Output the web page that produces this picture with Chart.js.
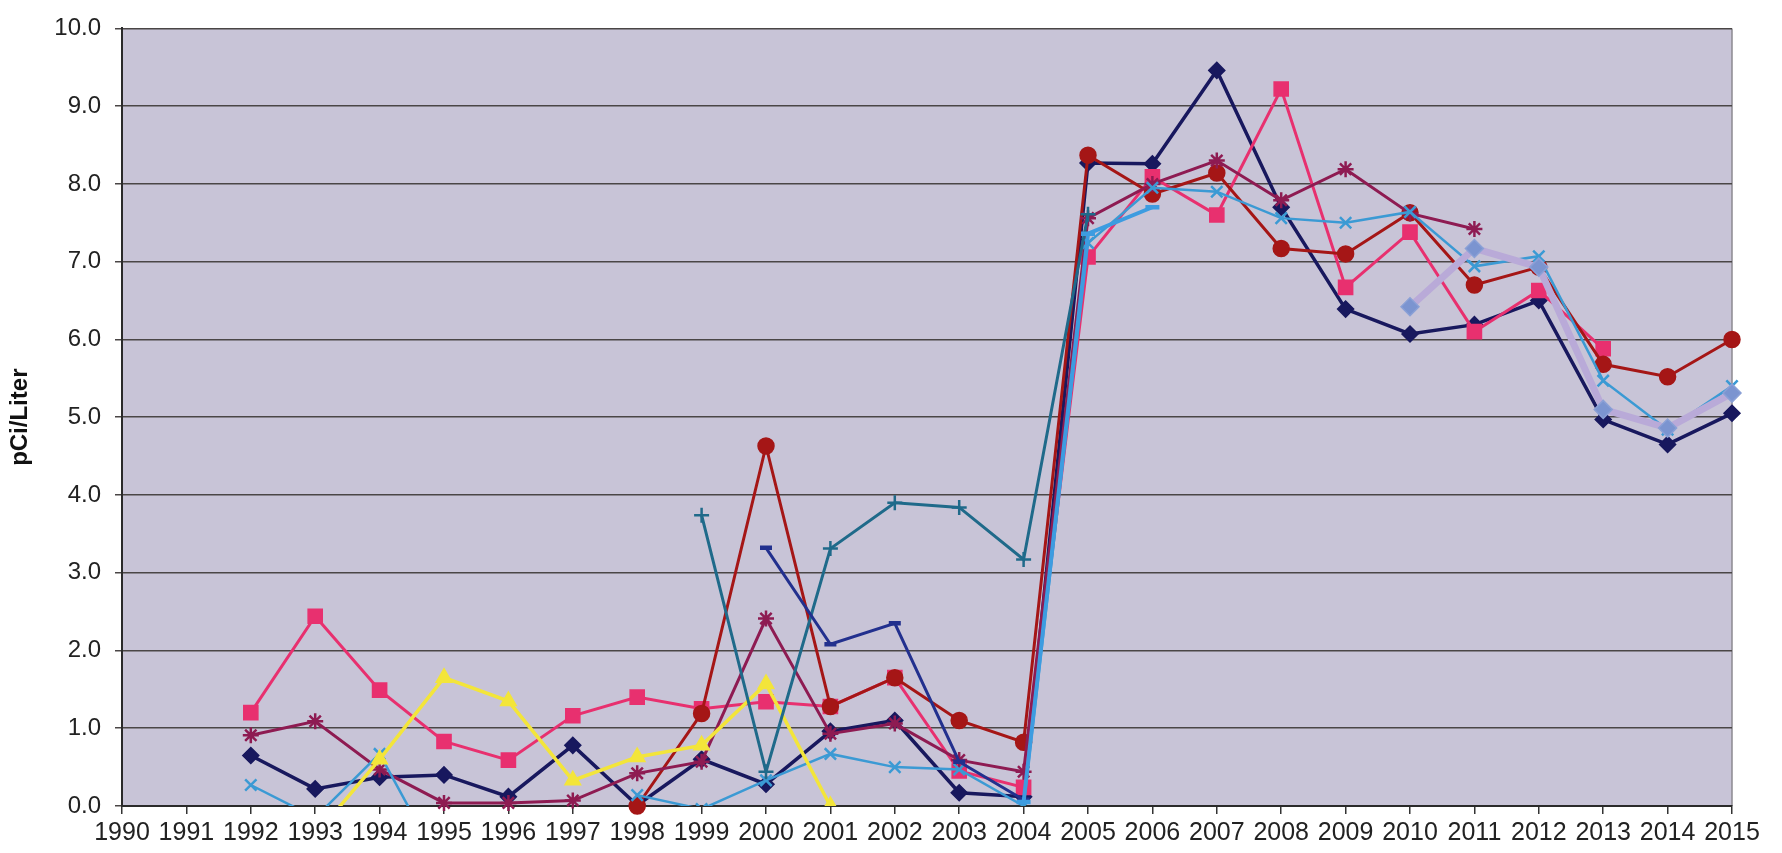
<!DOCTYPE html>
<html>
<head>
<meta charset="utf-8">
<script src="https://cdn.jsdelivr.net/npm/chart.js"></script>
<style>
  body { margin: 0; background: #fff; }
  #wrap { width: 1782px; height: 853px; }
</style>
</head>
<body>
<div id="wrap"><canvas id="chart" width="1782" height="853"></canvas></div>
<script>
// --- Data (pCi/Liter per year) ---
const years = ['1990','1991','1992','1993','1994','1995','1996','1997','1998','1999','2000','2001','2002',
               '2003','2004','2005','2006','2007','2008','2009','2010','2011','2012','2013','2014','2015'];
const yTicks = [0, 1, 2, 3, 4, 5, 6, 7, 8, 9, 10];

const navyDiamond = [null, null, 0.65, 0.22, 0.37, 0.40, 0.12, 0.78, 0.01, 0.60, 0.28, 0.96, 1.10,
                     0.17, 0.12, 8.27, 8.26, 9.46, 7.70, 6.39, 6.07, 6.19, 6.50, 4.97, 4.65, 5.05];
const pinkSquare  = [null, null, 1.20, 2.44, 1.49, 0.83, 0.59, 1.16, 1.40, 1.25, 1.34, 1.28, 1.65,
                     0.45, 0.24, 7.06, 8.09, 7.60, 9.22, 6.67, 7.38, 6.10, 6.63, 5.88, null, null];
const redCircle   = [null, null, null, null, null, null, null, null, 0.00, 1.19, 4.63, 1.28, 1.65,
                     1.10, 0.82, 8.37, 7.87, 8.14, 7.17, 7.10, 7.63, 6.70, 6.93, 5.68, 5.52, 6.00];
const maroonStar  = [null, null, 0.91, 1.09, 0.47, 0.04, 0.04, 0.07, 0.42, 0.57, 2.41, 0.93, 1.06,
                     0.59, 0.44, 7.56, 8.00, 8.30, 7.79, 8.19, 7.62, 7.42, null, null, null, null];
const skyCross    = [null, null, 0.27, -0.15, 0.67, -0.85, null, null, 0.14, -0.04, 0.33, 0.67, 0.50,
                     0.47, 0.00, 7.24, 7.95, 7.90, 7.56, 7.50, 7.64, 6.94, 7.07, 5.47, 4.84, 5.40];
const yellowTri   = [null, null, null, -0.38, 0.60, 1.65, 1.35, 0.33, 0.63, 0.78, 1.57, 0.00, null,
                     null, null, null, null, null, null, null, null, null, null, null, null, null];
const tealPlus    = [null, null, null, null, null, null, null, null, null, 3.74, 0.44, 3.31, 3.90,
                     3.84, 3.17, 7.61, null, null, null, null, null, null, null, null, null, null];
const navyDash    = [null, null, null, null, null, null, null, null, null, null, 3.32, 2.08, 2.35,
                     0.57, 0.08, null, null, null, null, null, null, null, null, null, null, null];
const skyDash     = [null, null, null, null, null, null, null, null, null, null, null, null, null,
                     null, 0.05, 7.36, 7.70, null, null, null, null, null, null, null, null, null];
const lavender    = [null, null, null, null, null, null, null, null, null, null, null, null, null,
                     null, null, null, null, null, null, null, 6.42, 7.17, 6.93, 5.10, 4.86, 5.31];

// --- Plot background + right border ---
const plotBackground = {
    id: 'plotBackground',
    beforeDraw(chart) {
        const { ctx, chartArea: a } = chart;
        ctx.save();
        ctx.fillStyle = '#c8c4d7';
        ctx.fillRect(a.left, a.top, a.right - a.left, a.bottom - a.top);
        ctx.strokeStyle = '#8c8a90';
        ctx.lineWidth = 1.5;
        ctx.beginPath();
        ctx.moveTo(a.right, a.top);
        ctx.lineTo(a.right, a.bottom);
        ctx.stroke();
        ctx.restore();
    }
};

function series(data, color, style, radius, width, order, extra) {
    return Object.assign({
        data: data,
        borderColor: color,
        backgroundColor: color,
        pointBackgroundColor: color,
        pointBorderColor: color,
        pointStyle: style,
        pointRadius: radius,
        pointBorderWidth: 1.5,
        borderWidth: width,
        tension: 0,
        order: order,
        clip: { left: false, right: false, top: 0, bottom: 10 }
    }, extra || {});
}

const FONT = "'Liberation Sans', Arial, sans-serif";

new Chart(document.getElementById('chart').getContext('2d'), {
    type: 'line',
    data: {
        labels: years,
        datasets: [
            series(lavender, '#b9aad8', 'rectRot', 9, 7, 1,
                { pointBackgroundColor: '#7b94d0', pointBorderColor: '#8aa0d6' }),
            series(skyDash, '#3d9ce0', 'line', 7, 4, 2, { pointBorderWidth: 4.5 }),
            series(navyDash, '#22308e', 'line', 6, 3, 3, { pointBorderWidth: 4.5 }),
            series(tealPlus, '#1f6a8a', 'cross', 7.5, 3, 4, { pointBorderWidth: 2.5 }),
            series(yellowTri, '#f3e53a', 'triangle', 9, 3.5, 5,
                { clip: { left: false, right: false, top: 0, bottom: 0 } }),
            series(skyCross, '#3b9ad4', 'crossRot', 8, 2.5, 6,
                { pointBorderWidth: 2.5, clip: { left: false, right: false, top: 0, bottom: 0 } }),
            series(maroonStar, '#8e1b52', 'star', 8, 3, 7, { pointBorderWidth: 2.5 }),
            series(redCircle, '#a51616', 'circle', 8, 3, 8),
            series(pinkSquare, '#e8306f', 'rect', 10, 3, 9),
            series(navyDiamond, '#18185e', 'rectRot', 8, 3.5, 10)
        ]
    },
    options: {
        responsive: false,
        animation: false,
        layout: { padding: { top: 21, right: 50, left: 0, bottom: 0 } },
        plugins: { legend: { display: false }, tooltip: { enabled: false } },
        scales: {
            x: {
                offset: false,
                grid: { drawOnChartArea: false, drawTicks: true, tickLength: 8, color: '#333', lineWidth: 1.5 },
                border: { display: true, color: '#2a2a2a', width: 2 },
                ticks: { color: '#222', font: { family: FONT, size: 25 }, padding: 4, maxRotation: 0, autoSkip: false },
                afterFit(scale) { scale.height = 47; }
            },
            y: {
                min: yTicks[0],
                max: yTicks[yTicks.length - 1],
                afterBuildTicks(scale) { scale.ticks = yTicks.map(v => ({ value: v })); },
                grid: { color: '#4a4646', lineWidth: 1.5, tickLength: 7 },
                border: { display: true, color: '#2a2a2a', width: 2 },
                ticks: {
                    color: '#222',
                    font: { family: FONT, size: 24 },
                    padding: 14,
                    callback: v => Number(v).toFixed(1)
                },
                title: {
                    display: true,
                    text: 'pCi/Liter',
                    color: '#111',
                    font: { family: FONT, size: 24, weight: 'bold' },
                    padding: { top: 6, bottom: 0 }
                },
                afterFit(scale) { scale.width = 122; }
            }
        }
    },
    plugins: [plotBackground]
});
</script>
</body>
</html>
